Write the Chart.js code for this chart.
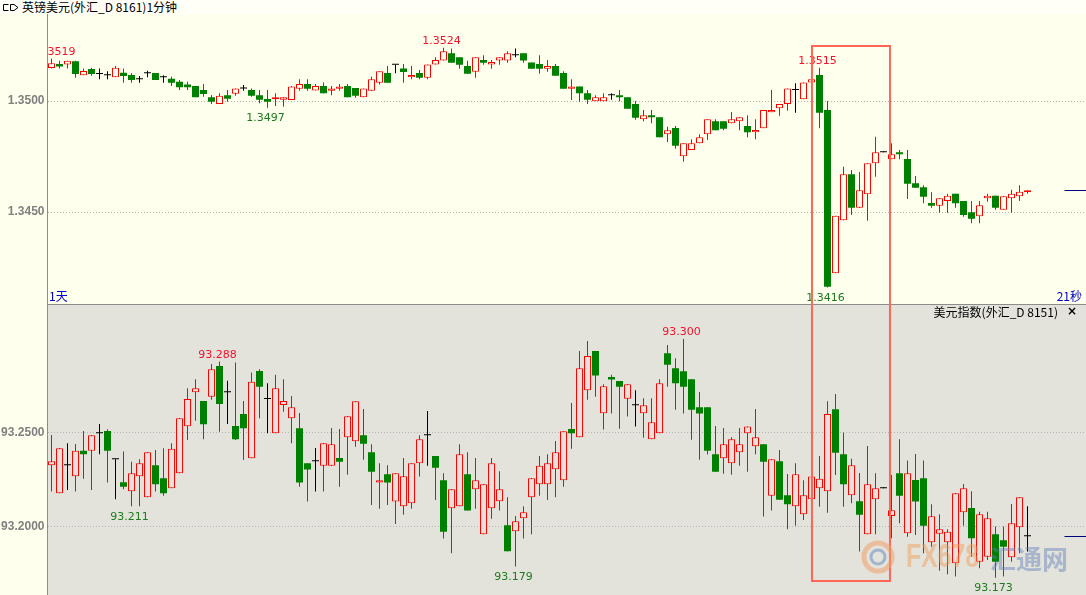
<!DOCTYPE html>
<html lang="zh-CN">
<head>
<meta charset="utf-8">
<title>英镑美元 / 美元指数 1分钟</title>
<script src="https://cdn.jsdelivr.net/npm/chart.js@4.4.1/dist/chart.umd.min.js"></script>
<style>
html,body{margin:0;padding:0;}
body{position:relative;width:1086px;height:595px;overflow:hidden;background:#FFFFEE;}
#titlebar{position:absolute;left:0;top:0;width:1086px;height:14px;background:#FFFFF7;}
#titletext{position:absolute;left:22px;top:-1px;font:12px "Noto Sans CJK SC",sans-serif;line-height:15px;color:#000;white-space:nowrap;}
#icon{position:absolute;left:2px;top:3px;}
canvas{position:absolute;left:0;}
#topChart{top:14px;}
#botChart{top:304px;}
#subtitle{position:absolute;right:28px;top:304px;font:12px "Noto Sans CJK SC",sans-serif;line-height:15px;color:#000;white-space:nowrap;}
#closeX{position:absolute;left:1067px;top:304px;font:bold 12px "DejaVu Sans",sans-serif;line-height:15px;color:#000;}
#wm{position:absolute;left:861px;top:542px;width:225px;height:40px;pointer-events:none;}
#wm1{position:absolute;left:45px;top:-5px;font:bold 33px "Liberation Sans",sans-serif;color:rgba(242,150,80,0.45);transform:scaleX(0.75);transform-origin:0 0;white-space:nowrap;}
#wm2{position:absolute;left:129px;top:-3px;font:bold 26px "Noto Sans CJK SC",sans-serif;color:rgba(95,125,185,0.45);white-space:nowrap;}
</style>
</head>
<body>
<div id="titlebar">
  <svg id="icon" width="18" height="9"><path d="M6.5 1.5H1.5V7.5H6.5M8.5 1.5H12L16 4.5L12 7.5H8.5Z" fill="none" stroke="#000" stroke-width="1"/></svg>
  <div id="titletext">英镑美元(外汇_D 8161)1分钟</div>
</div>
<canvas id="topChart" width="1088" height="290"></canvas>
<canvas id="botChart" width="1088" height="291"></canvas>
<div id="subtitle">美元指数(外汇_D 8151)</div>
<div id="closeX">×</div>
<div id="wm">
  <svg style="position:absolute;left:0;top:-2px" width="34" height="34">
    <circle cx="17" cy="17" r="14" fill="none" stroke="rgba(240,160,105,0.55)" stroke-width="5"/>
    <circle cx="17" cy="17" r="7" fill="none" stroke="rgba(110,140,195,0.55)" stroke-width="3"/>
  </svg>
  <div id="wm1">FX678</div>
  <div id="wm2">汇通网</div>
</div>
<script>
// ---------------- data ----------------
const gbpOpen = [
 1.35149,1.35167,1.35165,1.35179,1.35116,1.35144,1.35122,1.35116,1.35107,1.35127,
 1.35117,1.35098,1.35125,1.35126,1.35107,1.35100,1.35087,1.35075,1.35068,1.35050,
 1.35017,1.34987,1.35026,1.35033,1.35057,1.35050,1.35026,1.35009,1.35008,1.35006,
 1.35005,1.35055,1.35077,1.35048,1.35068,1.35046,1.35055,1.35068,1.35059,1.35017,
 1.35046,1.35082,1.35126,1.35163,1.35147,1.35107,1.35126,1.35105,1.35165,1.35183,
 1.35215,1.35197,1.35158,1.35132,1.35185,1.35165,1.35183,1.35183,1.35206,1.35215,
 1.35174,1.35167,1.35145,1.35158,1.35126,1.35055,1.35066,1.35035,1.34999,1.34999,
 1.35026,1.35026,1.35017,1.34987,1.34918,1.34936,1.34927,1.34850,1.34879,1.34751,
 1.34780,1.34810,1.34850,1.34909,1.34909,1.34900,1.34909,1.34888,1.34859,1.34877,
 1.34949,1.34967,1.34987,1.35050,1.35008,1.35084,1.35117,1.34960,1.34225,1.34463,
 1.34670,1.34520,1.34580,1.34720,1.34769,1.34738,1.34769,1.34739,1.34630,1.34612,
 1.34541,1.34529,1.34550,1.34582,1.34550,1.34499,1.34481,1.34562,1.34573,1.34511,
 1.34562,1.34571,1.34589];
const gbpHigh = [
 1.35190,1.35181,1.35182,1.35181,1.35147,1.35150,1.35147,1.35134,1.35158,1.35147,
 1.35125,1.35113,1.35136,1.35126,1.35116,1.35109,1.35095,1.35087,1.35068,1.35077,
 1.35027,1.35035,1.35050,1.35057,1.35072,1.35057,1.35050,1.35050,1.35035,1.35017,
 1.35068,1.35098,1.35098,1.35077,1.35084,1.35068,1.35077,1.35077,1.35059,1.35057,
 1.35109,1.35134,1.35158,1.35163,1.35167,1.35158,1.35140,1.35165,1.35197,1.35240,
 1.35237,1.35197,1.35181,1.35197,1.35206,1.35185,1.35197,1.35224,1.35237,1.35215,
 1.35174,1.35206,1.35185,1.35167,1.35134,1.35098,1.35066,1.35050,1.35026,1.35035,
 1.35035,1.35050,1.35017,1.35000,1.34960,1.34960,1.34927,1.34884,1.34888,1.34810,
 1.34828,1.34850,1.34918,1.34918,1.34909,1.34951,1.34927,1.34936,1.34918,1.34960,
 1.35050,1.34987,1.35057,1.35080,1.35084,1.35098,1.35150,1.35000,1.34483,1.34704,
 1.34690,1.34681,1.34720,1.34839,1.34769,1.34810,1.34780,1.34780,1.34663,1.34621,
 1.34589,1.34562,1.34582,1.34582,1.34550,1.34550,1.34550,1.34582,1.34573,1.34571,
 1.34601,1.34621,1.34598];
const gbpLow = [
 1.35147,1.35147,1.35147,1.35105,1.35116,1.35114,1.35098,1.35098,1.35107,1.35082,
 1.35082,1.35082,1.35107,1.35095,1.35082,1.35068,1.35050,1.35050,1.35017,1.35019,
 1.34987,1.34987,1.34997,1.35024,1.35046,1.35019,1.34990,1.34970,1.34978,1.34974,
 1.35005,1.35046,1.35046,1.35048,1.35035,1.35026,1.35046,1.35017,1.35015,1.35017,
 1.35046,1.35075,1.35082,1.35125,1.35082,1.35098,1.35098,1.35098,1.35165,1.35183,
 1.35172,1.35145,1.35123,1.35105,1.35163,1.35145,1.35163,1.35172,1.35197,1.35172,
 1.35145,1.35123,1.35132,1.35114,1.35055,1.35005,1.34997,1.34987,1.34999,1.34999,
 1.35006,1.34999,1.34965,1.34916,1.34909,1.34900,1.34837,1.34816,1.34785,1.34727,
 1.34780,1.34810,1.34825,1.34868,1.34868,1.34900,1.34868,1.34837,1.34828,1.34877,
 1.34949,1.34934,1.34956,1.34947,1.35008,1.35084,1.34877,1.34160,1.34225,1.34463,
 1.34487,1.34520,1.34461,1.34659,1.34769,1.34738,1.34738,1.34559,1.34610,1.34540,
 1.34520,1.34497,1.34497,1.34520,1.34479,1.34450,1.34450,1.34546,1.34510,1.34511,
 1.34497,1.34550,1.34582];
const gbpClose = [
 1.35170,1.35156,1.35181,1.35122,1.35135,1.35122,1.35122,1.35116,1.35150,1.35113,
 1.35095,1.35098,1.35125,1.35095,1.35107,1.35082,1.35062,1.35062,1.35017,1.35032,
 1.34997,1.35024,1.35010,1.35057,1.35057,1.35024,1.35006,1.34997,1.35017,1.35017,
 1.35065,1.35077,1.35055,1.35068,1.35035,1.35057,1.35066,1.35017,1.35024,1.35057,
 1.35098,1.35134,1.35082,1.35163,1.35131,1.35117,1.35105,1.35165,1.35185,1.35224,
 1.35172,1.35163,1.35123,1.35197,1.35172,1.35176,1.35197,1.35215,1.35206,1.35183,
 1.35145,1.35145,1.35158,1.35114,1.35055,1.35066,1.35035,1.35006,1.35017,1.35017,
 1.35026,1.35017,1.34965,1.34925,1.34936,1.34927,1.34837,1.34868,1.34799,1.34810,
 1.34810,1.34837,1.34918,1.34868,1.34875,1.34918,1.34927,1.34859,1.34870,1.34960,
 1.34960,1.34987,1.35057,1.35050,1.35084,1.35098,1.34947,1.34164,1.34483,1.34670,
 1.34520,1.34598,1.34720,1.34769,1.34769,1.34760,1.34760,1.34628,1.34610,1.34569,
 1.34529,1.34562,1.34573,1.34540,1.34487,1.34470,1.34531,1.34573,1.34520,1.34571,
 1.34582,1.34591,1.34598];

const dxyOpen = [
 93.2328,93.2179,93.2328,93.2270,93.2406,93.2406,93.2498,93.2511,93.2360,93.2238,
 93.2190,93.2270,93.2158,93.2328,93.2259,93.2206,93.2286,93.2536,93.2717,93.2670,
 93.2693,93.2856,93.2717,93.2537,93.2601,93.2365,93.2830,93.2681,93.2498,93.2649,
 93.2578,93.2525,93.2339,93.2349,93.2326,93.2326,93.2367,93.2477,93.2456,93.2488,
 93.2397,93.2236,93.2280,93.2135,93.2110,93.2126,93.2339,93.2488,93.2378,93.2248,
 93.2099,93.2110,93.2280,93.2200,93.1961,93.2099,93.2137,93.2009,93.1977,93.2046,
 93.2158,93.2227,93.2227,93.2307,93.2248,93.2521,93.2477,93.2727,93.2936,93.2605,
 93.2798,93.2777,93.2682,93.2647,93.2605,93.2466,93.2498,93.2924,93.2844,93.2828,
 93.2786,93.2637,93.2637,93.2387,93.2365,93.2339,93.2397,93.2498,93.2429,93.2440,
 93.2166,93.2349,93.2169,93.2110,93.2067,93.2147,93.2206,93.2190,93.2626,93.2387,
 93.2169,93.2137,93.1961,93.2147,93.2206,93.2058,93.2286,93.1966,93.2250,93.2259,
 93.1919,93.1964,93.1919,93.1807,93.2078,93.2101,93.1815,93.1842,93.1961,93.1929,
 93.1839,93.1998,93.1950];
const dxyHigh = [
 93.2489,93.2419,93.2445,93.2441,93.2511,93.2488,93.2548,93.2520,93.2360,93.2401,
 93.2347,93.2360,93.2397,93.2410,93.2419,93.2445,93.2578,93.2738,93.2786,93.2670,
 93.2867,93.2880,93.2778,93.2875,93.2670,93.2821,93.2839,93.2764,93.2809,93.2786,
 93.2697,93.2606,93.2339,93.2420,93.2445,93.2527,93.2521,93.2589,93.2669,93.2628,
 93.2440,93.2339,93.2328,93.2286,93.2367,93.2339,93.2488,93.2617,93.2378,93.2286,
 93.2200,93.2440,93.2397,93.2367,93.2227,93.2367,93.2296,93.2158,93.2058,93.2110,
 93.2259,93.2378,93.2387,93.2457,93.2509,93.2660,93.2936,93.2989,93.2936,93.2759,
 93.2809,93.2777,93.2759,93.2727,93.2685,93.2685,93.2786,93.2968,93.2897,93.3000,
 93.2786,93.2718,93.2637,93.2537,93.2527,93.2477,93.2527,93.2534,93.2628,93.2440,
 93.2360,93.2410,93.2282,93.2339,93.2248,93.2268,93.2378,93.2669,93.2707,93.2502,
 93.2363,93.2287,93.2431,93.2286,93.2206,93.2277,93.2466,93.2353,93.2388,93.2353,
 93.2121,93.2067,93.1988,93.2179,93.2229,93.2190,93.2081,93.2081,93.2002,93.2002,
 93.2122,93.2158,93.2110];
const dxyLow = [
 93.2188,93.2179,93.2197,93.2188,93.2257,93.2197,93.2387,93.2236,93.2147,93.2200,
 93.2110,93.2110,93.2158,93.2188,93.2166,93.2206,93.2286,93.2463,93.2565,93.2466,
 93.2676,93.2507,93.2548,93.2463,93.2356,93.2365,93.2578,93.2498,93.2498,93.2613,
 93.2445,93.2214,93.2135,93.2188,93.2188,93.2326,93.2214,93.2278,93.2427,93.2358,
 93.2117,93.2097,93.2117,93.2016,93.2065,93.2097,93.2268,93.2326,93.2144,93.1938,
 93.1860,93.2110,93.2087,93.2097,93.1961,93.2044,93.2087,93.1871,93.1790,93.1938,
 93.1961,93.2166,93.2144,93.2158,93.2214,93.2416,93.2477,93.2676,93.2693,93.2518,
 93.2603,93.2523,93.2587,93.2534,93.2475,93.2466,93.2498,93.2746,93.2624,93.2603,
 93.2464,93.2358,93.2385,93.2294,93.2283,93.2278,93.2326,93.2294,93.2387,93.2055,
 93.2087,93.2145,93.1988,93.2007,93.2037,93.2108,93.2108,93.2076,93.2277,93.2108,
 93.2126,93.1869,93.1961,93.1961,93.2206,93.1940,93.2020,93.1948,93.1957,93.1860,
 93.1895,93.1767,93.1748,93.1736,93.2007,93.1842,93.1780,93.1824,93.1730,93.1736,
 93.1815,93.1860,93.1869];
const dxyClose = [
 93.2349,93.2419,93.2328,93.2406,93.2387,93.2488,93.2498,93.2406,93.2360,93.2214,
 93.2286,93.2339,93.2397,93.2227,93.2179,93.2416,93.2578,93.2681,93.2738,93.2546,
 93.2839,93.2654,93.2717,93.2466,93.2525,93.2773,93.2746,93.2681,93.2738,93.2670,
 93.2637,93.2236,93.2305,93.2349,93.2445,93.2440,93.2347,93.2589,93.2669,93.2443,
 93.2294,93.2248,93.2236,93.2286,93.2270,93.2339,93.2466,93.2488,93.2315,93.1975,
 93.2200,93.2387,93.2087,93.2248,93.2227,93.2339,93.2200,93.1871,93.2030,93.2078,
 93.2259,93.2326,93.2339,93.2397,93.2509,93.2498,93.2844,93.2910,93.2805,93.2748,
 93.2784,93.2746,93.2759,93.2647,93.2647,93.2557,93.2764,93.2863,93.2764,93.2746,
 93.2624,93.2603,93.2406,93.2294,93.2440,93.2466,93.2440,93.2534,93.2477,93.2347,
 93.2360,93.2145,93.2121,93.2280,93.2169,93.2268,93.2257,93.2601,93.2395,93.2227,
 93.2328,93.2065,93.2227,93.2206,93.2206,93.2089,93.2166,93.2286,93.2135,93.2007,
 93.2057,93.1988,93.1975,93.2179,93.2206,93.1940,93.2067,93.2046,93.1815,93.1895,
 93.2020,93.2158,93.1950];

// minute slots across the window (123 filled, the rest empty space on the right)
const categories = Array.from({length: 130}, (_, i) => String(i + 1));

// y-axis tick labels and visible ranges
const gbpTicks = [1.3450, 1.3500];
const dxyTicks = [93.2000, 93.2500];
const gbpRange = [1.34086, 1.35392];
const dxyRange = [93.1638, 93.3186];

// marked extreme candles (index into the series)
const gbpHighMarks = [0, 49, 96];
const gbpLowMarks = [27, 97];
const dxyHighMarks = [21, 79];
const dxyLowMarks = [10, 58, 118];

// highlighted window (candle index span, price bounds)
const highlight = {from: 95.06, to: 104.81, top: 1.35248, bottom: 93.1712};

// ---------------- styles ----------------
const RED = '#FF0000', GREEN = '#008000', BLACK = '#000000';
const PAGE_BG = '#FFFFEE', TOP_BG = '#FFFFEE', BOT_BG = '#E3E3DC';
const HIGH_TXT = '#F2102A', LOW_TXT = '#1C7A1C', HL_COL = '#FF6655';

function panelPlugin(p) {
  return {
    id: 'panel_' + p.key,
    beforeDraw(chart) {
      const {ctx, chartArea: a} = chart;
      ctx.save();
      ctx.fillStyle = PAGE_BG; ctx.fillRect(0, 0, chart.width, chart.height);
      ctx.fillStyle = p.bg; ctx.fillRect(a.left, a.top, a.right - a.left, a.bottom - a.top);
      ctx.restore();
    },
    afterDatasetsDraw(chart) {
      const {ctx, chartArea: a} = chart;
      const x = chart.scales.x, y = chart.scales.y;
      ctx.save();
      ctx.beginPath(); ctx.rect(a.left, a.top, a.right - a.left, a.bottom - a.top); ctx.clip();
      ctx.font = '11px "DejaVu Sans"'; ctx.textAlign = 'center'; ctx.textBaseline = 'alphabetic';
      const place = (i, v, dy, col) => {
        const t = v.toFixed(p.dec);
        const w = ctx.measureText(t).width;
        let cx = x.getPixelForValue(i) - 2;
        if (cx - w / 2 < a.left) cx = a.left - ctx.measureText(t.slice(0, t.indexOf('.') + 1)).width + w / 2;
        ctx.fillStyle = col;
        ctx.fillText(t, cx, y.getPixelForValue(v) + dy);
      };
      p.highMarks.forEach(i => place(i, p.high[i], -4, HIGH_TXT));
      p.lowMarks.forEach(i => place(i, p.low[i], 13.5, LOW_TXT));
      // last price marker
      const last = p.close[p.close.length - 1];
      const ly = Math.round(y.getPixelForValue(last)) + 0.5;
      ctx.strokeStyle = '#000080'; ctx.lineWidth = 1;
      ctx.beginPath(); ctx.moveTo(a.right - 23, ly); ctx.lineTo(a.right, ly); ctx.stroke();
      if (p.captions) {
        ctx.font = '12px "Noto Sans CJK SC"'; ctx.fillStyle = '#0000C8';
        ctx.textAlign = 'left'; ctx.fillText(p.captions[0], a.left + 1.5, a.bottom - 3);
        ctx.textAlign = 'right'; ctx.fillText(p.captions[1], a.right - 5.5, a.bottom - 3);
      }
      ctx.restore();
      // panel borders
      ctx.save();
      ctx.fillStyle = '#8C8C8C';
      ctx.fillRect(47, 0, 1, chart.height);
      if (p.key === 'dxy') ctx.fillRect(47, 0, chart.width - 47, 1);
      // highlight rectangle
      const L = x.getPixelForValue(highlight.from), R = x.getPixelForValue(highlight.to);
      ctx.strokeStyle = HL_COL; ctx.lineWidth = 2;
      ctx.beginPath();
      if (p.key === 'gbp') {
        const t = y.getPixelForValue(highlight.top);
        ctx.moveTo(L, chart.height + 2); ctx.lineTo(L, t); ctx.lineTo(R, t); ctx.lineTo(R, chart.height + 2);
      } else {
        const b = y.getPixelForValue(highlight.bottom);
        ctx.moveTo(L, -2); ctx.lineTo(L, b); ctx.lineTo(R, b); ctx.lineTo(R, -2);
      }
      ctx.stroke();
      ctx.restore();
    }
  };
}

function makeChart(id, o, h, l, c, p) {
  const dir = o.map((v, i) => c[i] > v ? 1 : (c[i] < v ? -1 : 0));
  const fillCol = dir.map(d => d > 0 ? p.bg : (d < 0 ? GREEN : BLACK));
  const lineCol = dir.map(d => d > 0 ? RED : (d < 0 ? GREEN : BLACK));
  Object.assign(p, {high: h, low: l, close: c});
  return new Chart(document.getElementById(id), {
    type: 'bar',
    data: {
      labels: categories,
      datasets: [
        { label: 'body', data: o.map((v, i) => [v, c[i]]), backgroundColor: fillCol, borderColor: lineCol,
          borderWidth: dir.map(d => d > 0 ? 1 : 0), borderSkipped: false, barThickness: 7, minBarLength: 1,
          grouped: false, inflateAmount: 0, order: 0 },
        { label: 'wick', data: l.map((v, i) => [v, h[i]]), backgroundColor: lineCol, borderWidth: 0,
          barThickness: 1, minBarLength: 1, grouped: false, inflateAmount: 0, order: 1 }
      ]
    },
    options: {
      responsive: false, animation: false, devicePixelRatio: 1, events: [],
      layout: {padding: {left: 0, right: 0.5, top: 0, bottom: 0}},
      plugins: {legend: {display: false}, tooltip: {enabled: false}},
      scales: {
        x: {type: 'category', offset: true, display: false, grid: {display: false}},
        y: {
          min: p.range[0], max: p.range[1], position: 'left',
          grid: {color: '#B5B5B5', drawTicks: false, lineWidth: 1},
          border: {display: false, dash: [1, 2]},
          ticks: {color: '#808080', font: {family: 'Liberation Sans', size: 12, weight: 'bold'}, padding: 3,
                  callback: v => Number(v).toFixed(4)},
          afterBuildTicks: s => { s.ticks = p.ticks.map(v => ({value: v})); },
          afterFit: s => { s.width = 47.5; s.paddingTop = 0; s.paddingBottom = 0; }
        }
      }
    },
    plugins: [panelPlugin(p)]
  });
}

makeChart('topChart', gbpOpen, gbpHigh, gbpLow, gbpClose,
  {key: 'gbp', bg: TOP_BG, dec: 4, range: gbpRange, ticks: gbpTicks,
   highMarks: gbpHighMarks, lowMarks: gbpLowMarks, captions: ['1天', '21秒']});
makeChart('botChart', dxyOpen, dxyHigh, dxyLow, dxyClose,
  {key: 'dxy', bg: BOT_BG, dec: 3, range: dxyRange, ticks: dxyTicks,
   highMarks: dxyHighMarks, lowMarks: dxyLowMarks});
</script>
</body>
</html>
